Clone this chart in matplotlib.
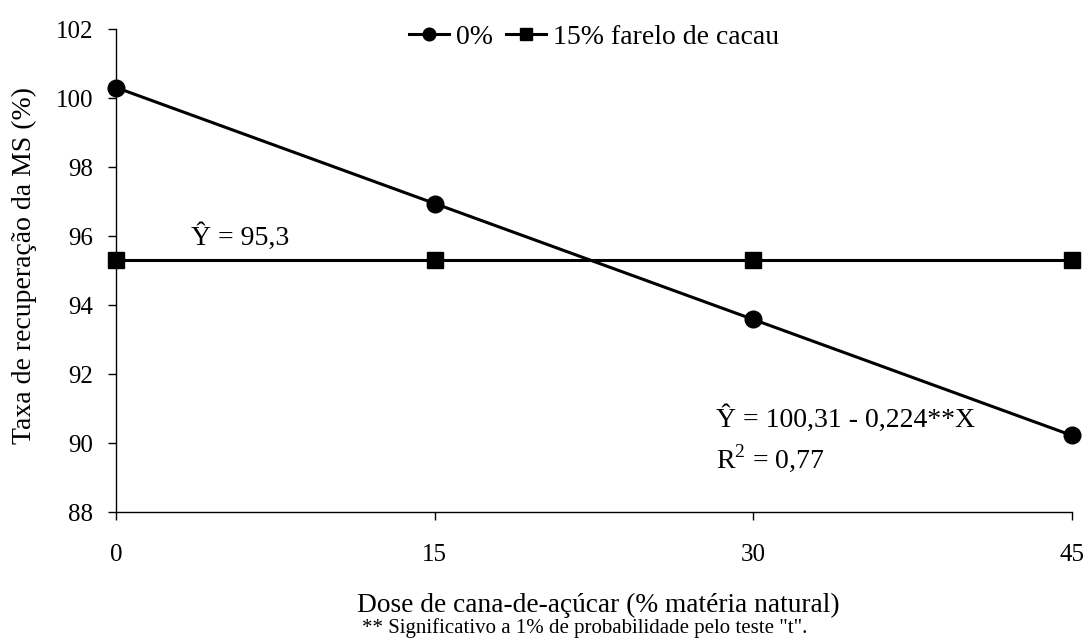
import matplotlib
matplotlib.use("Agg")
import matplotlib.pyplot as plt

plt.rcParams['font.family'] = ['Liberation Serif', 'DejaVu Serif']
plt.rcParams['mathtext.fontset'] = 'custom'
plt.rcParams['mathtext.rm'] = 'Liberation Serif'

x = [0, 15, 30, 45]
y0 = [100.31, 96.95, 93.59, 90.23]
y15 = [95.3, 95.3, 95.3, 95.3]
xticks = [0, 15, 30, 45]
yticks = [88, 90, 92, 94, 96, 98, 100, 102]

W, H = 1087, 644
fig = plt.figure(figsize=(W/100, H/100), dpi=100)
L, R, T, B = 116.3, 1071.7, 29.3, 512.3
ax = fig.add_axes([L/W, 1-B/H, (R-L)/W, (B-T)/H])

ax.plot(x, y0, '-o', color='black', lw=2.2, ms=12, label='0%', clip_on=False, zorder=3)
ax.plot(x, y15, '-s', color='black', lw=2.2, ms=12.2, label='15% farelo de cacau', clip_on=False, zorder=3)

ax.set_xlim(0, 45)
ax.set_ylim(88, 102)
ax.set_xticks(xticks)
ax.set_yticks(yticks)
ax.tick_params(direction='out', length=6, width=1, labelsize=18, colors='black')
ax.tick_params(axis='x', pad=17)
ax.tick_params(axis='y', pad=10.5)
for s in ['top', 'right']:
    ax.spines[s].set_visible(False)
for s in ['left', 'bottom']:
    ax.spines[s].set_linewidth(1)

fig.text(24/W, 1-265/H, 'Taxa de recuperação da MS (%)', fontsize=20, rotation=90,
         ha='center', va='center')
fig.text(357/W, 1-612/H, 'Dose de cana-de-açúcar (% matéria natural)', fontsize=19.7,
         ha='left', va='baseline')
fig.text(362/W, 1-633/H, '** Significativo a 1% de probabilidade pelo teste "t".', fontsize=15,
         ha='left', va='baseline')

ax.text(3.5, 95.75, 'Ŷ = 95,3', fontsize=20, va='baseline', ha='left')
ax.text(28.25, 90.47, 'Ŷ = 100,31 - 0,224**X', fontsize=20, va='baseline', ha='left')
ax.text(28.25, 89.31, 'R$^{2}$ = 0,77', fontsize=20, va='baseline', ha='left')

ax.legend(loc='center', bbox_to_anchor=((594-L)/(R-L), (B-37)/(B-T)), ncol=2, frameon=False, fontsize=20,
          handlelength=1.45, handletextpad=0.25, columnspacing=0.45, markerscale=0.76,
          borderaxespad=0, borderpad=0)

fig.savefig('out.png', dpi=100)
